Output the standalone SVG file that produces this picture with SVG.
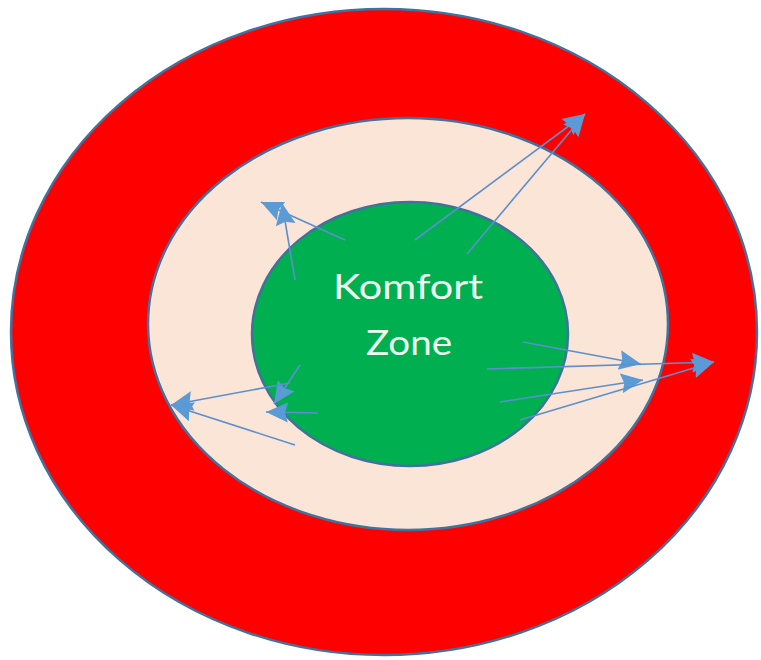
<svg xmlns="http://www.w3.org/2000/svg" width="761" height="660" viewBox="0 0 761 660">
<style>
.ring{stroke:#41719c;stroke-width:2.5}
.arr{stroke:#5b8fd0;stroke-width:1.6;fill:none;marker-end:url(#ah)}
.lbl{font-family:Lato,"Open Sans","Liberation Sans",sans-serif;font-size:35px;fill:#eefbee;text-anchor:middle}
</style>
<defs>
<marker id="ah" markerUnits="userSpaceOnUse" markerWidth="24" markerHeight="22" viewBox="0 0 24 22" refX="22" refY="11" orient="auto">
<path d="M0,1 L22,11 L0,21 L3,11 Z" fill="#5b9bd5"/>
</marker>
</defs>
<rect width="761" height="660" fill="#ffffff"/>
<g id="outer"><ellipse class="ring" cx="384" cy="332" rx="373" ry="323" fill="#ff0000"/></g>
<g id="middle"><ellipse class="ring" cx="408" cy="324" rx="260" ry="206" fill="#fbe5d6"/></g>
<g id="komfort-zone">
<ellipse class="ring" cx="410" cy="334" rx="158" ry="132" fill="#00b050"/>
<text class="lbl" x="408" y="299" textLength="150" lengthAdjust="spacingAndGlyphs">Komfort</text>
<text class="lbl" x="409" y="355" textLength="86" lengthAdjust="spacingAndGlyphs">Zone</text>
</g>
<g id="connectors">
<line class="arr" x1="415" y1="240" x2="585" y2="114"/>
<line class="arr" x1="467" y1="254" x2="585" y2="114"/>
<line class="arr" x1="345" y1="240" x2="261" y2="202"/>
<line class="arr" x1="295" y1="280" x2="282" y2="203"/>
<line class="arr" x1="300" y1="365" x2="274" y2="404"/>
<line class="arr" x1="318" y1="413" x2="266" y2="412"/>
<line class="arr" x1="290" y1="383" x2="171" y2="405"/>
<line class="arr" x1="295" y1="445" x2="171" y2="405"/>
<line class="arr" x1="523" y1="342" x2="641" y2="364"/>
<line class="arr" x1="487" y1="369" x2="714" y2="362"/>
<line class="arr" x1="500" y1="402" x2="643" y2="380"/>
<line class="arr" x1="520" y1="420" x2="714" y2="362"/>
</g>
</svg>
